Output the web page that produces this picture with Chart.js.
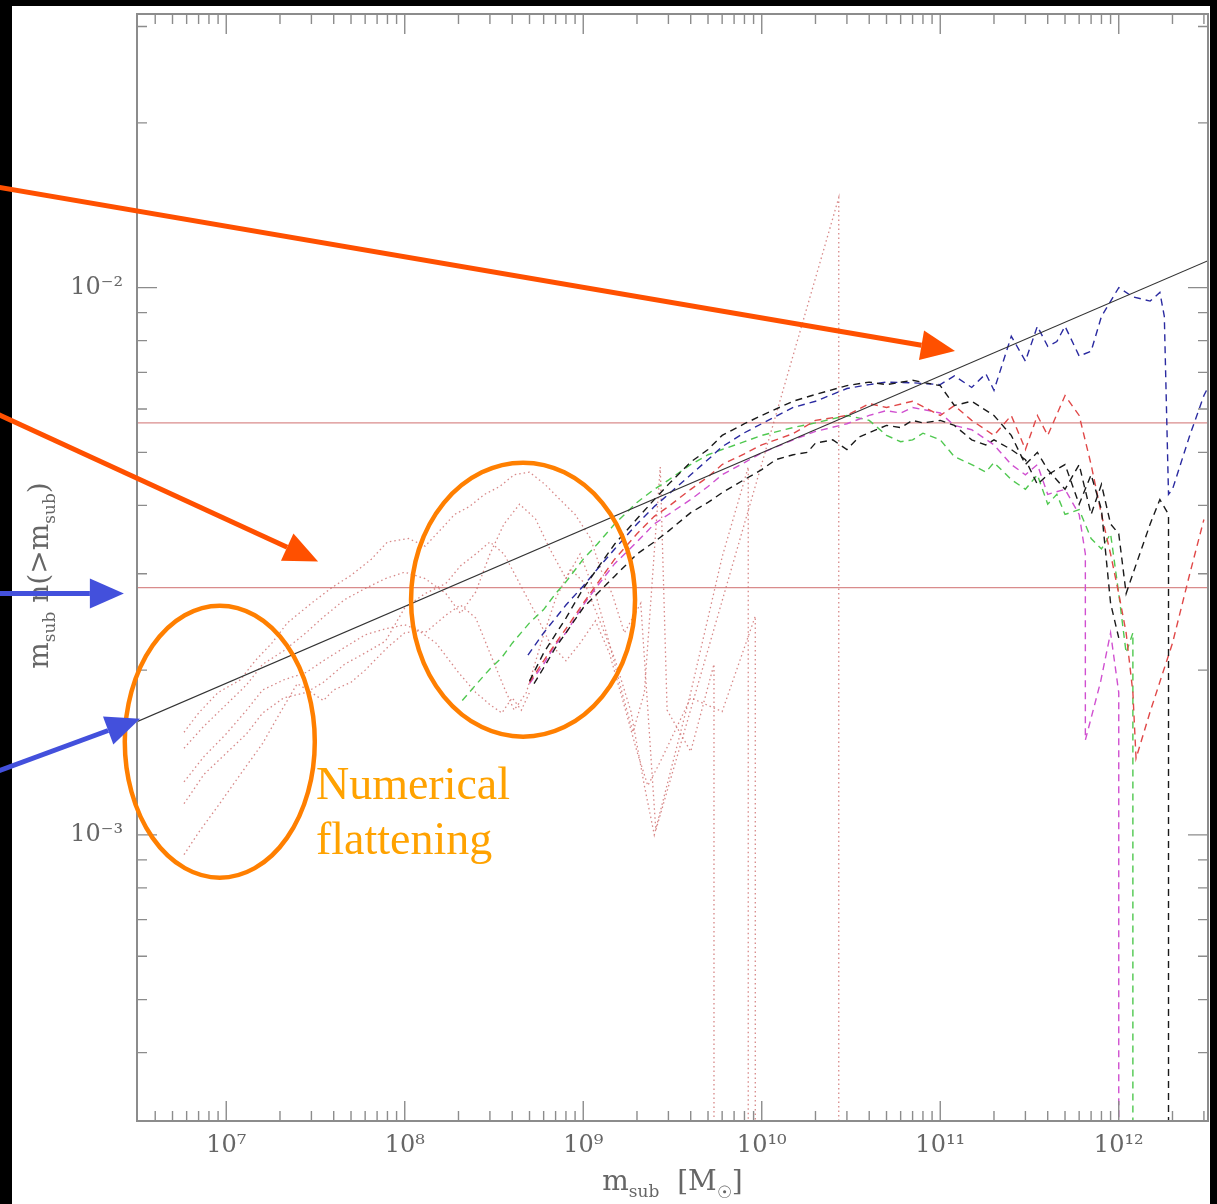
<!DOCTYPE html>
<html>
<head>
<meta charset="utf-8">
<script src="https://cdn.jsdelivr.net/npm/chart.js@4.4.0/dist/chart.umd.min.js"></script>
<style>
  html, body { margin: 0; padding: 0; background: #000; }
  canvas { display: block; }
</style>
</head>
<body>
<canvas id="massChart" width="1217" height="1204"></canvas>
<script>
// Axis ranges and tick labels
const xMin = 3.1623e6, xMax = 3.1623e12;
const yMin = 3.1623e-4, yMax = 3.1623e-2;
const xTickValues = [1e7, 1e8, 1e9, 1e10, 1e11, 1e12];
const xTickLabels = ['10⁷', '10⁸', '10⁹', '10¹⁰', '10¹¹', '10¹²'];
const yTickValues = [1e-3, 1e-2];
const yTickLabels = ['10⁻³', '10⁻²'];

// Power-law fit (solid black)
const lawMass = [3.1623e6, 3.1623e12];
const lawVal = [1.61e-3, 1.12e-2];

// Horizontal reference levels
const refLevels = [5.66e-3, 2.83e-3];

// Low resolution runs (red dotted)
const rd1Mass = [5.8e6,7e6,9e6,1.2e7,1.45e7,1.8e7,2.2e7,3e7,3.9e7,5e7,6.5e7,8e7,1.05e8,1.3e8,1.6e8,1.9e8,2.3e8,2.8e8,3.4e8,4.1e8,5e8,6.1e8,7.4e8,9e8,1.1e9,1.25e9,1.45e9,1.7e9,2.1e9,2.55e9,2.7e10,2.7e10];
const rd1Val = [1.54e-3,1.67e-3,1.82e-3,1.92e-3,2.08e-3,2.24e-3,2.44e-3,2.65e-3,2.83e-3,2.98e-3,3.19e-3,3.43e-3,3.48e-3,3.37e-3,3.62e-3,3.85e-3,3.98e-3,4.19e-3,4.33e-3,4.55e-3,4.6e-3,4.37e-3,4.1e-3,3.85e-3,3.48e-3,3.06e-3,2.76e-3,2.34e-3,2.65e-3,1.02e-3,1.46e-2,3e-4];
const rd2Mass = [5.8e6,7.5e6,1e7,1.3e7,1.6e7,2.1e7,2.8e7,3.5e7,4.6e7,6e7,7.8e7,1e8,1.3e8,1.7e8,2.05e8,2.5e8,3e8,3.6e8,4.4e8,5.4e8,6.5e8,8e8,9.6e8,1.17e9,1.4e9,1.65e9,1.9e9,2.2e9,2.7e9,2.95e9,4e9,5.4e9,5.4e9];
const rd2Val = [1.44e-3,1.58e-3,1.73e-3,1.88e-3,2.05e-3,2.17e-3,2.34e-3,2.5e-3,2.69e-3,2.82e-3,2.94e-3,3.02e-3,2.94e-3,2.76e-3,2.54e-3,2.78e-3,3.26e-3,3.7e-3,4.02e-3,3.78e-3,3.33e-3,2.94e-3,3.26e-3,2.76e-3,2.24e-3,1.82e-3,1.54e-3,1.82e-3,4.7e-3,1.69e-3,1.42e-3,2.05e-3,3e-4];
const rd3Mass = [5.8e6,7.5e6,1e7,1.3e7,1.6e7,2.1e7,2.8e7,3.5e7,4.6e7,6e7,7.8e7,1e8,1.3e8,1.7e8,2.05e8,2.5e8,3e8,3.6e8,4.1e8,4.8e8,5.8e8,7e8,8.5e8,1.02e9,1.25e9,1.5e9,1.85e9,2.2e9,2.5e9,4e9,6e9,8.4e9,8.4e9];
const rd3Val = [1.25e-3,1.39e-3,1.53e-3,1.69e-3,1.84e-3,1.92e-3,1.98e-3,2.08e-3,2.2e-3,2.32e-3,2.38e-3,2.42e-3,2.34e-3,2.52e-3,2.63e-3,2.49e-3,2.15e-3,1.86e-3,1.69e-3,1.82e-3,2.24e-3,2.7e-3,3.06e-3,2.88e-3,2.44e-3,2.1e-3,1.68e-3,1.23e-3,1e-3,1.82e-3,3.22e-3,4.7e-3,3e-4];
const rd4Mass = [5.8e6,7.5e6,1e7,1.3e7,1.6e7,2.1e7,2.8e7,3.5e7,4.6e7,6e7,7.8e7,1e8,1.3e8,1.7e8,2.05e8,2.5e8,3e8,3.6e8,4.4e8,5.4e8,6.5e8,8e8,9.6e8,1.17e9,1.4e9,1.65e9,2e9,2.3e9,2.7e9,4e9,6e9,9.2e9,9.2e9];
const rd4Val = [1.14e-3,1.29e-3,1.41e-3,1.53e-3,1.67e-3,1.78e-3,1.82e-3,1.9e-3,2.05e-3,2.15e-3,2.26e-3,2.6e-3,2.76e-3,2.88e-3,3.1e-3,3.26e-3,3.43e-3,3.26e-3,2.88e-3,2.54e-3,2.24e-3,2.08e-3,2.24e-3,2.46e-3,2.15e-3,1.78e-3,1.42e-3,1.23e-3,1.36e-3,1.78e-3,1.68e-3,2.51e-3,3e-4];
const rd5Mass = [5.8e6,7e6,9e6,1.2e7,1.6e7,2e7,2.5e7,3e7,3.5e7,4e7,5e7,6e7,8e7,1e8,1.2e8,1.5e8,2e8,2.5e8,3e8,3.5e8,4e8,4.5e8,5e8];
const rd5Val = [9.2e-4,1.01e-3,1.13e-3,1.29e-3,1.47e-3,1.67e-3,1.89e-3,1.82e-3,1.76e-3,1.84e-3,1.9e-3,2e-3,2.2e-3,2.34e-3,2.36e-3,2.24e-3,1.98e-3,1.82e-3,1.73e-3,1.67e-3,1.78e-3,1.69e-3,1.82e-3];

// High resolution runs (dashed)
const greenMass = [2.1e8,2.5e8,3e8,3.5e8,4e8,5e8,6e8,7e8,8e8,1e9,1.2e9,1.5e9,2e9,2.5e9,3e9,4e9,5e9,6e9,8e9,1e10,1.5e10,2e10,3e10,4e10,5e10,6e10,7e10,8e10,1e11,1.2e11,1.5e11,1.8e11,2e11,2.5e11,3e11,3.5e11,4e11,4.5e11,5e11,6e11,7e11,8e11,9e11,1e12,1.1e12,1.2e12,1.2e12];
const greenVal = [1.76e-3,1.88e-3,2.01e-3,2.11e-3,2.24e-3,2.44e-3,2.58e-3,2.76e-3,2.9e-3,3.19e-3,3.4e-3,3.7e-3,4.05e-3,4.28e-3,4.45e-3,4.75e-3,4.95e-3,5.06e-3,5.23e-3,5.37e-3,5.55e-3,5.66e-3,5.84e-3,5.72e-3,5.37e-3,5.23e-3,5.27e-3,5.42e-3,5.27e-3,4.91e-3,4.75e-3,4.6e-3,4.79e-3,4.46e-3,4.28e-3,4.55e-3,4.02e-3,4.19e-3,3.85e-3,3.93e-3,3.48e-3,3.33e-3,3.55e-3,2.76e-3,2.15e-3,2.34e-3,3e-4];
const blueMass = [4.9e8,6e8,7e8,8e8,1e9,1.2e9,1.5e9,2e9,2.5e9,3e9,4e9,5e9,6e9,8e9,1e10,1.5e10,2e10,3e10,4e10,5e10,7e10,1e11,1.2e11,1.5e11,1.8e11,2e11,2.5e11,3e11,3.5e11,4e11,4.5e11,5e11,6e11,7e11,8e11,1e12,1.2e12,1.5e12,1.7e12,1.8e12,1.9e12,2e12,2.5e12,3e12,3.2e12];
const blueVal = [2.13e-3,2.34e-3,2.49e-3,2.63e-3,2.85e-3,3.06e-3,3.33e-3,3.7e-3,3.98e-3,4.19e-3,4.55e-3,4.85e-3,5.12e-3,5.43e-3,5.64e-3,6.04e-3,6.2e-3,6.54e-3,6.65e-3,6.72e-3,6.7e-3,6.65e-3,6.9e-3,6.57e-3,6.96e-3,6.49e-3,8.15e-3,7.34e-3,8.5e-3,7.81e-3,7.97e-3,8.5e-3,7.5e-3,7.65e-3,8.86e-3,1.0e-2,9.62e-3,9.45e-3,9.8e-3,8.86e-3,4.19e-3,4.28e-3,5.37e-3,6.35e-3,6.62e-3];
const black1Mass = [5e8,6e8,8e8,1e9,1.5e9,2e9,2.5e9,3e9,4e9,5e9,6e9,8e9,1e10,1.5e10,2e10,3e10,4e10,5e10,7e10,1e11,1.2e11,1.5e11,2e11,2.5e11,3e11,3.5e11,4e11,5e11,6e11,7e11,8e11,9e11,1e12,1.1e12,1.2e12,1.5e12,1.7e12,1.9e12,1.9e12];
const black1Val = [1.91e-3,2.15e-3,2.49e-3,2.82e-3,3.4e-3,3.78e-3,4.1e-3,4.37e-3,4.8e-3,5.06e-3,5.37e-3,5.64e-3,5.84e-3,6.2e-3,6.38e-3,6.62e-3,6.72e-3,6.65e-3,6.77e-3,6.62e-3,6.09e-3,6.2e-3,5.84e-3,5.37e-3,4.75e-3,5.0e-3,4.65e-3,4.28e-3,4.75e-3,3.85e-3,4.37e-3,3.7e-3,3.55e-3,2.76e-3,3.0e-3,3.7e-3,4.1e-3,3.85e-3,3e-4];
const black2Mass = [5.3e8,6e8,7e8,8e8,1e9,1.2e9,1.5e9,2e9,2.5e9,3e9,4e9,5e9,6e9,8e9,1e10,1.2e10,1.5e10,1.8e10,2e10,2.5e10,3e10,3.5e10,4e10,5e10,6e10,7e10,8e10,1e11,1.2e11,1.5e11,1.8e11,2e11,2.5e11,3e11,3.5e11,4e11,5e11,6e11,7e11,8e11,9e11,1e12];
const black2Val = [1.89e-3,2.02e-3,2.2e-3,2.34e-3,2.6e-3,2.76e-3,2.97e-3,3.26e-3,3.43e-3,3.59e-3,3.88e-3,4.05e-3,4.22e-3,4.46e-3,4.65e-3,4.85e-3,4.95e-3,5.0e-3,5.2e-3,5.27e-3,5.06e-3,5.33e-3,5.43e-3,5.6e-3,5.55e-3,5.72e-3,5.66e-3,5.72e-3,5.6e-3,5.27e-3,5.16e-3,5.27e-3,5.06e-3,4.85e-3,4.37e-3,4.55e-3,4.75e-3,4.02e-3,4.55e-3,3.93e-3,2.65e-3,2.29e-3];
const magMass = [5e8,6e8,7e8,8e8,1e9,1.2e9,1.5e9,2e9,2.5e9,3e9,4e9,5e9,6e9,8e9,1e10,1.5e10,2e10,3e10,4e10,5e10,6e10,7e10,1e11,1.2e11,1.5e11,2e11,2.5e11,3e11,3.5e11,4e11,5e11,6e11,6.5e11,6.5e11,7.9e11,9e11,1e12,1e12];
const magVal = [1.89e-3,2.05e-3,2.23e-3,2.34e-3,2.63e-3,2.85e-3,3.13e-3,3.43e-3,3.7e-3,3.85e-3,4.1e-3,4.33e-3,4.55e-3,4.79e-3,4.99e-3,5.27e-3,5.46e-3,5.64e-3,5.84e-3,5.96e-3,5.9e-3,6.04e-3,5.9e-3,5.6e-3,5.5e-3,5.16e-3,4.75e-3,4.55e-3,4.75e-3,4.19e-3,4.28e-3,3.85e-3,3.26e-3,1.49e-3,1.9e-3,2.34e-3,1.82e-3,3e-4];
const redMass = [5e8,6e8,7e8,8e8,1e9,1.2e9,1.5e9,2e9,2.5e9,3e9,4e9,5e9,6e9,8e9,1e10,1.5e10,2e10,3e10,4e10,5e10,7e10,1e11,1.2e11,1.5e11,2e11,2.5e11,3e11,3.5e11,4e11,5e11,6e11,7e11,8e11,9e11,1e12,1.1e12,1.2e12,1.25e12,1.5e12,2e12,2.5e12,3e12];
const redVal = [1.9e-3,2.08e-3,2.24e-3,2.38e-3,2.65e-3,2.88e-3,3.19e-3,3.55e-3,3.82e-3,3.98e-3,4.28e-3,4.51e-3,4.75e-3,4.97e-3,5.16e-3,5.41e-3,5.72e-3,5.84e-3,6.14e-3,6.04e-3,6.2e-3,5.84e-3,6.09e-3,5.72e-3,5.37e-3,5.84e-3,5.06e-3,5.84e-3,5.37e-3,6.35e-3,5.84e-3,4.75e-3,3.85e-3,3.26e-3,2.76e-3,2.34e-3,1.82e-3,1.38e-3,1.68e-3,2.24e-3,3.0e-3,3.77e-3];

function series(mass, vals) {
    return mass.map((m, i) => ({ x: m, y: vals[i] }));
}

const serif = "'DejaVu Serif', serif";
const axisGray = '#8c8c8c';
const textGray = '#666';

// Overlay notes, anchored in data units
const noteEllipses = [
    { mass: 9.2e6, val: 1.48e-3, rx: 95, ry: 136 },
    { mass: 4.6e8, val: 2.69e-3, rx: 112, ry: 137 }
];
const noteArrows = [
    { from: [5e5, 1.53e-2], to: [1.21e11, 7.66e-3], color: '#ff5000' },
    { from: [5e5, 5.91e-3], to: [3.27e7, 3.16e-3], color: '#ff5000' },
    { from: [5e5, 2.76e-3], to: [2.67e6, 2.76e-3], color: '#4350dc' },
    { from: [5e5, 1.30e-3], to: [3.29e6, 1.63e-3], color: '#4350dc' }
];
const noteText = { mass: 3.18e7, val: 1.163e-3, lines: ['Numerical', 'flattening'] };

function drawRich(ctx, parts, x, y) {
    let total = 0;
    parts.forEach(p => { ctx.font = p[1] + 'px ' + serif; total += ctx.measureText(p[0]).width; });
    let cx = x - total / 2;
    parts.forEach(p => {
        ctx.font = p[1] + 'px ' + serif;
        ctx.fillText(p[0], cx, y + p[2]);
        cx += ctx.measureText(p[0]).width;
    });
}

function drawArrow(ctx, x0, y0, x1, y1, color) {
    const ang = Math.atan2(y1 - y0, x1 - x0);
    const headLen = 34, headHalf = 15;
    const bx = x1 - headLen * Math.cos(ang), by = y1 - headLen * Math.sin(ang);
    ctx.strokeStyle = color;
    ctx.fillStyle = color;
    ctx.lineWidth = 5;
    ctx.beginPath();
    ctx.moveTo(x0, y0);
    ctx.lineTo(bx, by);
    ctx.stroke();
    ctx.beginPath();
    ctx.moveTo(x1, y1);
    ctx.lineTo(bx + headHalf * Math.sin(ang), by - headHalf * Math.cos(ang));
    ctx.lineTo(bx - headHalf * Math.sin(ang), by + headHalf * Math.cos(ang));
    ctx.closePath();
    ctx.fill();
}

const framePlugin = {
    id: 'framePlugin',
    beforeDraw(chart) {
        const ctx = chart.ctx;
        ctx.save();
        ctx.fillStyle = '#000';
        ctx.fillRect(0, 0, chart.width, chart.height);
        ctx.fillStyle = '#fff';
        ctx.fillRect(12, 6, 1198, chart.height - 6);
        ctx.restore();
    },
    afterDatasetsDraw(chart) {
        const { ctx, chartArea: a } = chart;
        const xs = chart.scales.x, ys = chart.scales.y;
        ctx.save();
        ctx.strokeStyle = axisGray;
        ctx.lineWidth = 2;
        ctx.strokeRect(a.left, a.top, a.right - a.left, a.bottom - a.top);
        ctx.lineWidth = 1.4;
        ctx.beginPath();
        for (let e = 6; e <= 12; e++) {
            for (let s = 1; s <= 9; s++) {
                const v = s * Math.pow(10, e);
                if (v < xMin || v > xMax) continue;
                const px = xs.getPixelForValue(v);
                const len = s === 1 ? 20 : 10;
                ctx.moveTo(px, a.bottom); ctx.lineTo(px, a.bottom - len);
                ctx.moveTo(px, a.top); ctx.lineTo(px, a.top + len);
            }
        }
        for (let e = -4; e <= -2; e++) {
            for (let s = 1; s <= 9; s++) {
                const v = s * Math.pow(10, e);
                if (v < yMin || v > yMax) continue;
                const py = ys.getPixelForValue(v);
                const len = s === 1 ? 20 : 10;
                ctx.moveTo(a.left, py); ctx.lineTo(a.left + len, py);
                ctx.moveTo(a.right, py); ctx.lineTo(a.right - len, py);
            }
        }
        ctx.stroke();

        // axis titles
        ctx.fillStyle = textGray;
        ctx.textBaseline = 'alphabetic';
        drawRich(ctx, [['m', 28, 0], ['sub', 17, 7], ['  [M', 28, 0], ['☉', 17, 8], [']', 28, 0]],
            (a.left + a.right) / 2, 1190);
        ctx.translate(48, (a.top + a.bottom) / 2 + 8);
        ctx.rotate(-Math.PI / 2);
        drawRich(ctx, [['m', 28, 0], ['sub', 17, 7], [' n(>m', 28, 0], ['sub', 17, 7], [')', 28, 0]], 0, 0);
        ctx.restore();
    },
    afterDraw(chart) {
        const ctx = chart.ctx;
        const xs = chart.scales.x, ys = chart.scales.y;
        ctx.save();
        ctx.strokeStyle = '#ff7f00';
        ctx.lineWidth = 4.5;
        noteEllipses.forEach(el => {
            ctx.beginPath();
            ctx.ellipse(xs.getPixelForValue(el.mass), ys.getPixelForValue(el.val), el.rx, el.ry, 0, 0, Math.PI * 2);
            ctx.stroke();
        });
        noteArrows.forEach(ar => {
            drawArrow(ctx, xs.getPixelForValue(ar.from[0]), ys.getPixelForValue(ar.from[1]),
                xs.getPixelForValue(ar.to[0]), ys.getPixelForValue(ar.to[1]), ar.color);
        });
        ctx.fillStyle = '#ffa200';
        ctx.font = "46px 'Liberation Serif', serif";
        ctx.textBaseline = 'alphabetic';
        const tx = xs.getPixelForValue(noteText.mass), ty = ys.getPixelForValue(noteText.val);
        noteText.lines.forEach((t, i) => ctx.fillText(t, tx, ty + i * 55));
        ctx.restore();
    }
};

const dashed = (color) => ({ borderColor: color, borderWidth: 1.4, borderDash: [7, 5], fill: false });
const dotted = { borderColor: 'rgba(205,105,105,0.8)', borderWidth: 1.3, borderDash: [1.5, 3], fill: false };
const hline = { borderColor: 'rgba(210,120,120,0.85)', borderWidth: 1.2, fill: false };

const datasets = [
    { label: 'fit', data: series(lawMass, lawVal), borderColor: '#333', borderWidth: 1.2, fill: false },
    Object.assign({ label: 'black A', data: series(black1Mass, black1Val) }, dashed('#1a1a1a')),
    Object.assign({ label: 'black B', data: series(black2Mass, black2Val) }, dashed('#1a1a1a')),
    Object.assign({ label: 'blue', data: series(blueMass, blueVal) }, dashed('#2a2aa0')),
    Object.assign({ label: 'red', data: series(redMass, redVal) }, dashed('#e04848')),
    Object.assign({ label: 'magenta', data: series(magMass, magVal) }, dashed('#d050d0')),
    Object.assign({ label: 'green', data: series(greenMass, greenVal) }, dashed('#50c850')),
    Object.assign({ label: 'low 1', data: series(rd1Mass, rd1Val) }, dotted),
    Object.assign({ label: 'low 2', data: series(rd2Mass, rd2Val) }, dotted),
    Object.assign({ label: 'low 3', data: series(rd3Mass, rd3Val) }, dotted),
    Object.assign({ label: 'low 4', data: series(rd4Mass, rd4Val) }, dotted),
    Object.assign({ label: 'low 5', data: series(rd5Mass, rd5Val) }, dotted)
];
refLevels.forEach((lv, i) => {
    datasets.push(Object.assign({ label: 'level ' + i, data: series([xMin, xMax], [lv, lv]) }, hline));
});

new Chart(document.getElementById('massChart'), {
    type: 'line',
    data: { datasets: datasets },
    options: {
        responsive: false,
        animation: false,
        devicePixelRatio: 1,
        layout: { padding: { left: 12, right: 9, top: 14, bottom: 0 } },
        plugins: { legend: { display: false }, tooltip: { enabled: false } },
        elements: { point: { radius: 0 }, line: { tension: 0 } },
        scales: {
            x: {
                type: 'logarithmic',
                min: xMin,
                max: xMax,
                afterBuildTicks: (s) => { s.ticks = xTickValues.map(v => ({ value: v })); },
                afterFit: (s) => { s.height = 83; s.paddingLeft = 0; s.paddingRight = 0; },
                grid: { display: false, drawTicks: false },
                border: { display: false },
                ticks: {
                    autoSkip: false, maxRotation: 0, padding: 10, color: textGray,
                    font: { family: serif, size: 24 },
                    callback: (v, i) => xTickLabels[i]
                }
            },
            y: {
                type: 'logarithmic',
                min: yMin,
                max: yMax,
                afterBuildTicks: (s) => { s.ticks = yTickValues.map(v => ({ value: v })); },
                afterFit: (s) => { s.width = 125; s.paddingTop = 0; s.paddingBottom = 0; },
                grid: { display: false, drawTicks: false },
                border: { display: false },
                ticks: {
                    autoSkip: false, padding: 14, color: textGray,
                    font: { family: serif, size: 24 },
                    callback: (v, i) => yTickLabels[i]
                }
            }
        }
    },
    plugins: [framePlugin]
});
</script>
</body>
</html>
